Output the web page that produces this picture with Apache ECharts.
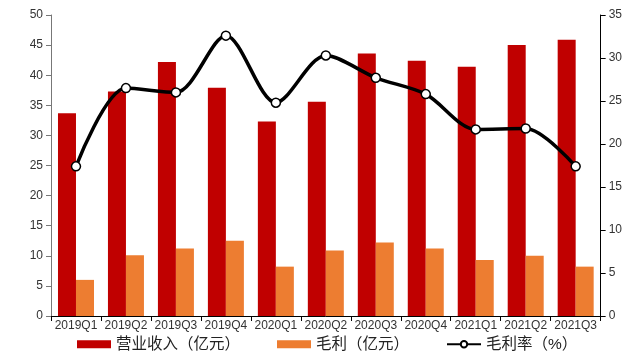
<!DOCTYPE html>
<html>
<head>
<meta charset="utf-8">
<script src="https://cdn.jsdelivr.net/npm/echarts@6/dist/echarts.min.js"></script>
<style>
  html, body { margin: 0; padding: 0; background: #fff; }
  #chart { width: 625px; height: 358px; }
</style>
</head>
<body>
<div id="chart"></div>
<script>
// ----------------- D A T A ----------------- //
const quarters = ['2019Q1', '2019Q2', '2019Q3', '2019Q4', '2020Q1', '2020Q2',
  '2020Q3', '2020Q4', '2021Q1', '2021Q2', '2021Q3']
const revenue = [33.7, 37.3, 42.2, 37.9, 32.3, 35.6, 43.6, 42.4, 41.4, 45.0, 45.9]
const grossProfit = [6.0, 10.1, 11.2, 12.5, 8.2, 10.9, 12.2, 11.2, 9.3, 10.0, 8.2]
const grossMargin = [17.4, 26.5, 26.0, 32.6, 24.8, 30.3, 27.7, 25.8, 21.7, 21.8, 17.4]
const leftTicks = [0, 50, 5]
const rightTicks = [0, 35, 5]

const font = 'Liberation Sans, Arial, "Noto Sans CJK SC", sans-serif'

const chart = echarts.init(document.getElementById('chart'))

chart.setOption({
  animation: false,
  textStyle: { fontFamily: font },
  grid: { left: 51, right: 23, top: 15, bottom: 42 },
  legend: {
    bottom: 1,
    left: 72,
    itemWidth: 34,
    itemHeight: 8,
    itemGap: 37,
    textStyle: { fontSize: 15.5, color: '#222', fontFamily: font },
    data: [
      { name: '营业收入（亿元）', icon: 'rect' },
      { name: '毛利（亿元）', icon: 'rect' },
      { name: '毛利率（%）' }
    ]
  },
  xAxis: {
    type: 'category',
    data: quarters,
    axisLine: { lineStyle: { color: '#000', width: 1 } },
    axisTick: { show: true, inside: false, length: 5, lineStyle: { color: '#000' } },
    axisLabel: { color: '#333', fontSize: 12, margin: 4, interval: 0 }
  },
  yAxis: [
    {
      type: 'value',
      min: leftTicks[0],
      max: leftTicks[1],
      interval: leftTicks[2],
      splitLine: { show: false },
      axisLine: { show: true, lineStyle: { color: '#777' } },
      axisTick: { show: true, length: 5, lineStyle: { color: '#777' } },
      axisLabel: { color: '#333', fontSize: 12, margin: 8 }
    },
    {
      type: 'value',
      min: rightTicks[0],
      max: rightTicks[1],
      interval: rightTicks[2],
      splitLine: { show: false },
      axisLine: { show: true, lineStyle: { color: '#000' } },
      axisTick: { show: true, length: 5, lineStyle: { color: '#000' } },
      axisLabel: { color: '#333', fontSize: 12, margin: 8 }
    }
  ],
  series: [
    {
      name: '营业收入（亿元）',
      type: 'bar',
      barWidth: 18,
      barGap: '0%',
      itemStyle: { color: '#c00000' },
      data: revenue
    },
    {
      name: '毛利（亿元）',
      type: 'bar',
      barWidth: 18,
      itemStyle: { color: '#ed7d31' },
      data: grossProfit
    },
    {
      name: '毛利率（%）',
      type: 'line',
      yAxisIndex: 1,
      smooth: 0.3,
      symbol: 'circle',
      symbolSize: 9,
      showSymbol: true,
      lineStyle: { color: '#000', width: 3.5 },
      itemStyle: { color: '#fff', borderColor: '#000', borderWidth: 1.5 },
      data: grossMargin
    }
  ]
})
</script>
</body>
</html>
